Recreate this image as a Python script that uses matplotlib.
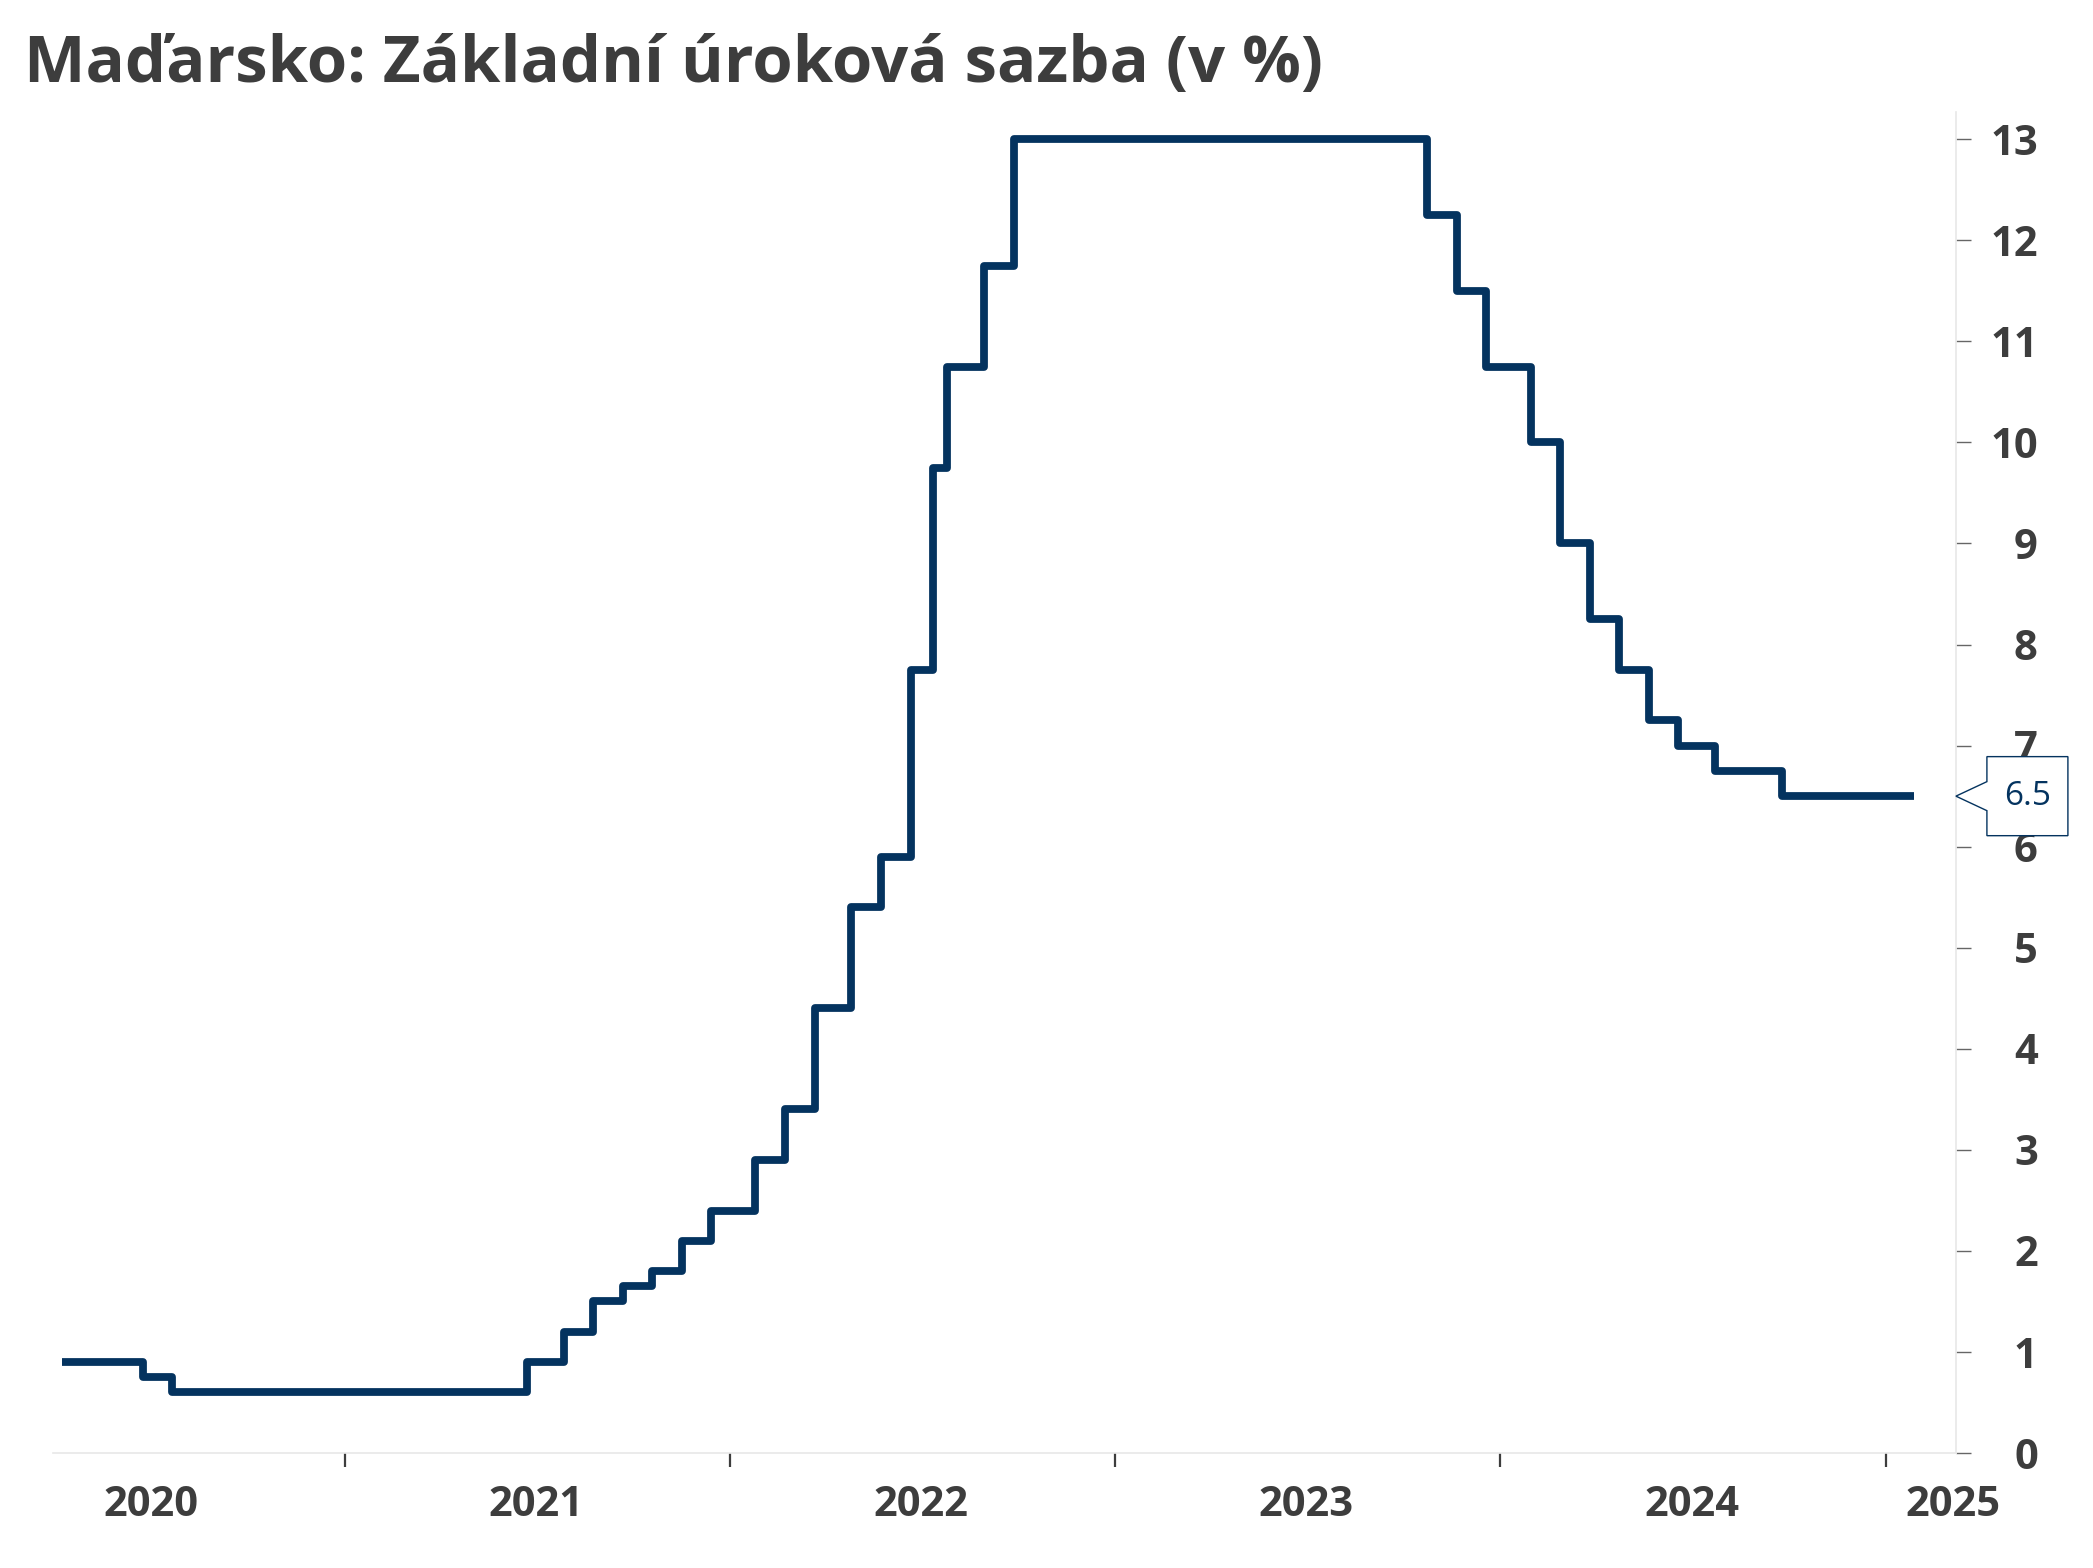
import matplotlib
matplotlib.use("Agg")
import matplotlib.pyplot as plt
import matplotlib.transforms as mtransforms
from matplotlib.patches import Polygon
import pandas as pd

# MNB base rate, decision dates and new level (in %)
change_dates = ["2020-04-08", "2020-06-23", "2020-07-21", "2021-06-22", "2021-07-27",
                "2021-08-24", "2021-09-21", "2021-10-19", "2021-11-16", "2021-12-14",
                "2022-01-25", "2022-02-22", "2022-03-22", "2022-04-26", "2022-05-24",
                "2022-06-21", "2022-07-12", "2022-07-26", "2022-08-30", "2022-09-27",
                "2023-10-24", "2023-11-21", "2023-12-19", "2024-01-30", "2024-02-27",
                "2024-03-26", "2024-04-23", "2024-05-21", "2024-06-18", "2024-07-23",
                "2024-09-24", "2025-01-27"]
rates = [0.9, 0.75, 0.6, 0.9, 1.2,
         1.5, 1.65, 1.8, 2.1, 2.4,
         2.9, 3.4, 4.4, 5.4, 5.9,
         7.75, 9.75, 10.75, 11.75, 13.0,
         12.25, 11.5, 10.75, 10.0, 9.0,
         8.25, 7.75, 7.25, 7.0, 6.75,
         6.5, 6.5]
years = [2020, 2021, 2022, 2023, 2024, 2025]
y_ticks = list(range(0, 14))

title = "Maďarsko: Základní úroková sazba (v %)"
line_color = "#04335f"
text_color = "#3d3d3d"

plt.rcParams["font.family"] = ["Open Sans", "DejaVu Sans"]

dates = pd.to_datetime(change_dates)

fig = plt.figure(figsize=(20.93, 15.68), dpi=100)
ax = fig.add_axes([0.0253, 0.0733, 0.9092, 0.8553])

ax.step(dates, rates, where="post", color=line_color, linewidth=5.6,
        solid_joinstyle="round", solid_capstyle="butt", zorder=3)

ax.set_xlim(pd.Timestamp("2020-03-30"), pd.Timestamp("2025-03-08"))
ax.set_ylim(0, 13.27)

# year boundaries get tick marks, labels sit in the middle of each year
ax.set_xticks([pd.Timestamp(f"{y}-01-01") for y in years[1:]])
ax.set_xticklabels([])
label_pos = [pd.Timestamp(f"{y}-07-01") for y in years[:-1]] + [pd.Timestamp("2025-03-05")]
ax.set_xticks(label_pos, minor=True)
ax.set_xticklabels([str(y) for y in years], minor=True)
ax.tick_params(axis="x", which="major", direction="out", length=10, width=1.6,
               color=text_color)
ax.tick_params(axis="x", which="minor", length=0, pad=23, labelsize=30,
               labelcolor=text_color)
for lab in ax.get_xticklabels(minor=True):
    lab.set_fontweight("bold")

ax.yaxis.tick_right()
ax.set_yticks(y_ticks)
ax.set_yticklabels([str(v) for v in y_ticks])
ax.tick_params(axis="y", direction="out", length=11, width=1.0, color="#666666",
               pad=48, labelsize=30, labelcolor=text_color)
for lab in ax.get_yticklabels():
    lab.set_fontweight("bold")
    lab.set_horizontalalignment("right")

for side in ["left", "top"]:
    ax.spines[side].set_visible(False)
for side in ["bottom", "right"]:
    ax.spines[side].set_color("#e8e8e8")
    ax.spines[side].set_linewidth(1.2)

# callout with the last value
last = rates[-1]
trans = mtransforms.blended_transform_factory(ax.transAxes, ax.transData)
x0 = 1.0
xl = 1.0 + 31 / 1903
xr = 1.0 + 112 / 1903
hh = 39.5 / 101
nh = 14.5 / 101
callout = Polygon([(x0, last), (xl, last + nh), (xl, last + hh), (xr, last + hh),
                   (xr, last - hh), (xl, last - hh), (xl, last - nh)],
                  closed=True, facecolor="white", edgecolor=line_color,
                  linewidth=1.0, transform=trans, clip_on=False, zorder=5)
ax.add_patch(callout)
ax.text((xl + xr) / 2, last, f"{last:g}", transform=trans, ha="center", va="center",
        fontsize=24, color=line_color, zorder=6)

fig.text(0.0115, 0.958, title, ha="left", va="center", fontsize=47,
         fontweight="bold", color=text_color)

fig.savefig("out.png", dpi=100, facecolor="white")
